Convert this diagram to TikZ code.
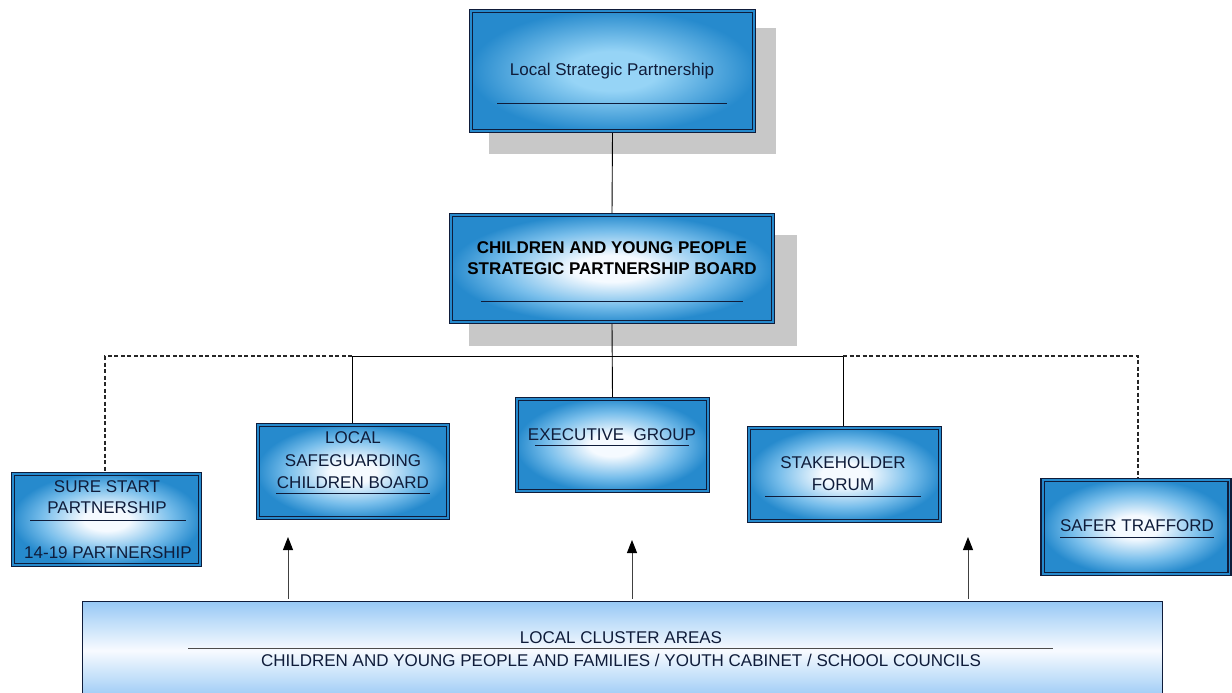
\documentclass[tikz,border=0pt]{standalone}
\usepackage{fontspec}
\setmainfont{Liberation Sans}
\usetikzlibrary{arrows.meta}
\definecolor{boxout}{RGB}{38,138,205}
\definecolor{boxmid}{RGB}{120,190,235}
\definecolor{boxin}{RGB}{245,250,255}
\definecolor{lspin}{RGB}{150,212,246}
\definecolor{navy}{RGB}{15,28,58}
\definecolor{shadowgray}{RGB}{200,200,200}
\definecolor{bandblue}{RGB}{150,200,245}
\definecolor{bandwhite}{RGB}{248,251,255}
\pgfdeclareradialshading{pillow}{\pgfpoint{0bp}{0bp}}{color(0bp)=(boxin); color(6bp)=(boxin); color(17bp)=(boxmid); color(25bp)=(boxout); color(50bp)=(boxout)}
\pgfdeclareradialshading{lspshade}{\pgfpoint{0bp}{0bp}}{color(0bp)=(lspin); color(8bp)=(lspin); color(25bp)=(boxout); color(50bp)=(boxout)}
\begin{document}
\begin{tikzpicture}[x=1pt,y=-1pt,
  box/.style={rectangle, inner sep=0pt, shading=pillow, draw=navy, line width=1.1pt},
  innerline/.style={draw=navy, line width=1.1pt},
  txt/.style={anchor=base, inner sep=0pt, text=navy, font=\fontsize{17}{20}\selectfont},
  btxt/.style={txt, text=black, font=\fontsize{17}{20}\selectfont\bfseries},
  uline/.style={draw=navy, line width=1pt},
  conn/.style={draw=black, line width=0.9pt},
  dotconn/.style={draw=black!85, line width=1.1pt, dash pattern=on 4pt off 2.5pt},
  arr/.style={draw=black!75, line width=1pt, -{Triangle[length=13pt,width=10pt,color=black]}}]
\useasboundingbox (0,0) rectangle (1232,693);
% shadows
\fill[shadowgray] (489,28) rectangle (776,154);
\fill[shadowgray] (469,235) rectangle (797,346);
% boxes
\node[box, shading=lspshade, minimum width=286pt, minimum height=123pt] (lsp) at (612.5,71) {};
\node[box, minimum width=325pt, minimum height=110pt] (cyp) at (612,268.5) {};
\node[box, minimum width=190pt, minimum height=94pt] (sure) at (106.5,519.5) {};
\node[box, minimum width=193pt, minimum height=96pt] (lscb) at (353,471.5) {};
\node[box, minimum width=194pt, minimum height=95pt] (exec) at (612.5,445) {};
\node[box, minimum width=194pt, minimum height=96pt] (stake) at (844.5,474.5) {};
\node[box, minimum width=190pt, minimum height=97pt] (safer) at (1136,527) {};
\foreach \n in {lsp,cyp,sure,lscb,exec,stake,safer}
  \draw[innerline] ([shift={(3.6,3.6)}]\n.north west) rectangle ([shift={(-3.6,-3.6)}]\n.south east);
\node[rectangle, inner sep=0pt, draw=navy, line width=1pt, top color=bandblue, bottom color=bandblue, middle color=bandwhite, minimum width=1080pt, minimum height=99pt] (bottom) at (622,650.5) {};
% texts
\node[txt] (lspt) at (612,76) {Local Strategic Partnership};
\draw[uline] (497,103) -- (727,103);
\node[btxt] (cypt1) at (612,253) {CHILDREN AND YOUNG PEOPLE};
\node[btxt] (cypt2) at (612,274) {STRATEGIC PARTNERSHIP BOARD};
\draw[uline] (481,301) -- (743,301);
\node[txt] (suret1) at (107,492) {SURE START};
\node[txt] (suret2) at (107,513) {PARTNERSHIP};
\draw[uline] (30,520) -- (186,520);
\node[txt] (suret3) at (108,558) {14-19 PARTNERSHIP};
\node[txt] (lscbt1) at (353,443) {LOCAL};
\node[txt] (lscbt2) at (353,466) {SAFEGUARDING};
\node[txt] (lscbt3) at (353,488) {CHILDREN BOARD};
\draw[uline] (276,493) -- (430,493);
\node[txt] (exect) at (612,440) {EXECUTIVE\ \ GROUP};
\draw[uline] (535,445) -- (689,445);
\node[txt] (staket1) at (843,468) {STAKEHOLDER};
\node[txt] (staket2) at (843,490) {FORUM};
\draw[uline] (765,496) -- (921,496);
\node[txt] (safert) at (1137,531) {SAFER TRAFFORD};
\draw[uline] (1060,537) -- (1214,537);
\node[txt] (bott1) at (621,643) {LOCAL CLUSTER AREAS};
\draw[uline, line width=1.2pt, draw=black!70] (188,648.5) -- (1053,648.5);
\node[txt] (bott2) at (621,666) {CHILDREN AND YOUNG PEOPLE AND FAMILIES / YOUTH CABINET / SCHOOL COUNCILS};
% connectors
\coordinate (hl) at (352,356);
\coordinate (hr) at (843,356);
\coordinate (dl) at (105,356);
\coordinate (dr) at (1138,356);
\draw[conn] (lsp.south) -- (cyp.north);
\draw[conn] (cyp.south) -- (exec.north);
\draw[conn] (hl) -- (hr);
\draw[conn] (hl) -- (hl |- lscb.north);
\draw[conn] (hr) -- (hr |- stake.north);
\draw[dotconn] (hl) -- (dl) -- (dl |- sure.north);
\draw[dotconn] (hr) -- (dr) -- (dr |- safer.north);
% arrows
\coordinate (a1) at (288,537);
\coordinate (a2) at (632,540);
\coordinate (a3) at (968,537);
\draw[arr] (a1 |- bottom.north) ++(0,-2) -- (a1);
\draw[arr] (a2 |- bottom.north) ++(0,-2) -- (a2);
\draw[arr] (a3 |- bottom.north) ++(0,-2) -- (a3);
\end{tikzpicture}
\end{document}
